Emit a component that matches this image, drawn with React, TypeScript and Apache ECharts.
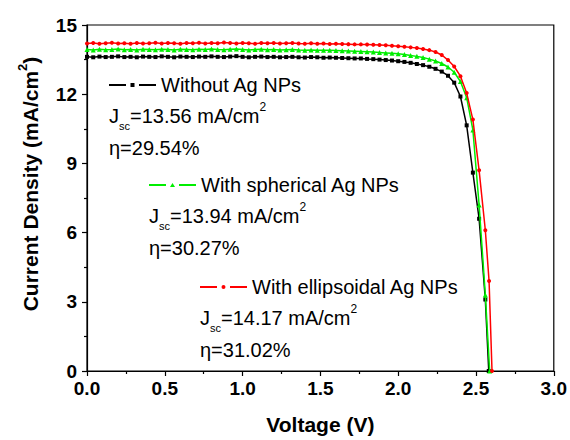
import React, { useEffect, useRef } from "react";
import * as echarts from "echarts";

const FONT = "'Liberation Sans', Arial, Helvetica, sans-serif";

// Voltage grid (V)
const voltage = [
  0.0, 0.04, 0.08, 0.12, 0.16, 0.2, 0.24, 0.28, 0.32, 0.36,
  0.4, 0.44, 0.48, 0.52, 0.56, 0.6, 0.64, 0.68, 0.72, 0.76,
  0.8, 0.84, 0.88, 0.92, 0.96, 1.0, 1.04, 1.08, 1.12, 1.16,
  1.2, 1.24, 1.28, 1.32, 1.36, 1.4, 1.44, 1.48, 1.52, 1.56,
  1.6, 1.64, 1.68, 1.72, 1.76, 1.8, 1.84, 1.88, 1.92, 1.96,
  2.0, 2.04, 2.08, 2.12, 2.16, 2.2, 2.24, 2.28, 2.32, 2.36,
  2.4, 2.44, 2.48, 2.52, 2.56,
];

// Current density (mA/cm2)
const jWithout = [
  13.62, 13.6, 13.63, 13.61, 13.62, 13.64, 13.61, 13.62, 13.6, 13.63,
  13.62, 13.61, 13.64, 13.62, 13.6, 13.63, 13.62, 13.61, 13.63, 13.62,
  13.64, 13.62, 13.61, 13.63, 13.65, 13.62, 13.6, 13.62, 13.63, 13.61,
  13.62, 13.6, 13.61, 13.62, 13.6, 13.59, 13.61, 13.6, 13.58, 13.59,
  13.58, 13.57, 13.56, 13.55, 13.55, 13.53, 13.52, 13.5, 13.48, 13.46,
  13.43, 13.4, 13.36, 13.31, 13.26, 13.19, 13.1, 12.98, 12.8, 12.5,
  11.9, 10.65, 8.6, 6.6, 3.1,
];
const withoutTailV = [2.582];
const withoutTailJ = [0];

const jSpherical = [
  13.94, 13.92, 13.95, 13.93, 13.94, 13.96, 13.93, 13.94, 13.92, 13.95,
  13.94, 13.93, 13.95, 13.94, 13.92, 13.95, 13.94, 13.93, 13.95, 13.94,
  13.96, 13.94, 13.93, 13.95, 13.96, 13.94, 13.92, 13.94, 13.95, 13.93,
  13.94, 13.92, 13.93, 13.94, 13.92, 13.91, 13.92, 13.91, 13.9, 13.9,
  13.89, 13.88, 13.87, 13.86, 13.85, 13.84, 13.83, 13.81, 13.79, 13.77,
  13.75, 13.72, 13.68, 13.64, 13.59, 13.52, 13.44, 13.33, 13.18, 12.95,
  12.55, 11.85, 10.45, 7.2, 3.3,
];
const sphericalTailV = [2.588];
const sphericalTailJ = [0];

const jEllipsoidal = [
  14.2, 14.22, 14.19, 14.21, 14.23, 14.2, 14.21, 14.19, 14.22, 14.2,
  14.21, 14.23, 14.2, 14.22, 14.21, 14.19, 14.22, 14.21, 14.23, 14.2,
  14.22, 14.21, 14.24, 14.22, 14.2, 14.22, 14.21, 14.19, 14.22, 14.21,
  14.22, 14.2, 14.21, 14.22, 14.2, 14.19, 14.21, 14.19, 14.2, 14.18,
  14.19, 14.18, 14.17, 14.16, 14.16, 14.15, 14.14, 14.13, 14.12, 14.1,
  14.08, 14.06, 14.03, 14.0, 13.96, 13.91, 13.83, 13.7, 13.48, 13.2,
  12.78, 12.05, 10.9, 8.7, 6.1,
];
const ellipsoidalTailV = [2.584, 2.603];
const ellipsoidalTailJ = [3.9, 0];

const seriesNames = ["Without Ag NPs", "With spherical Ag NPs", "With ellipsoidal Ag NPs"];
const seriesColors = ["#000000", "#00ee00", "#ff0000"];
const seriesSymbols = ["rect", "triangle", "circle"];
const jscLabels = ["13.56", "13.94", "14.17"];
const etaLabels = ["29.54%", "30.27%", "31.02%"];

const xTicks = ["0.0", "0.5", "1.0", "1.5", "2.0", "2.5", "3.0"];

// legend icons: dash - marker - dash
const legendIcons = [
  "path://M0,1H17V3H0Z M21.5,0H25.5V4H21.5Z M30,1H47V3H30Z",
  "path://M0,1H17V3H0Z M21,4L23.5,0L26,4Z M30,1H47V3H30Z",
  "path://M0,1H17V3H0Z M21.5,2A2,2,0,1,0,25.5,2A2,2,0,1,0,21.5,2Z M30,1H47V3H30Z",
];

function build(js: number[], tv: number[], tj: number[]) {
  const pts: number[][] = voltage.map((v, i) => [v, js[i]]);
  tv.forEach((v, i) => pts.push([v, tj[i]]));
  return pts;
}

// annotation anchors (layout only)
const blockLeft = [109, 149, 200];
const blockTop = [85, 185, 287];

export default function App() {
  const ref = useRef<HTMLDivElement>(null);
  useEffect(() => {
    if (!ref.current) return;
    const chart = echarts.init(ref.current, null, { renderer: "svg" });
    const datas = [
      build(jWithout, withoutTailV, withoutTailJ),
      build(jSpherical, sphericalTailV, sphericalTailJ),
      build(jEllipsoidal, ellipsoidalTailV, ellipsoidalTailJ),
    ];
    const axisCommon = {
      axisLine: { show: true, onZero: false, lineStyle: { color: "#000", width: 1.2 } },
      axisTick: { show: true, length: 5, lineStyle: { color: "#000", width: 1.2 } },
      minorTick: { show: true, splitNumber: 2, length: 3, lineStyle: { color: "#000", width: 1.2 } },
      splitLine: { show: false },
      minorSplitLine: { show: false },
    };
    const graphics: any[] = [];
    for (let k = 0; k < 3; k++) {
      graphics.push({
        type: "text",
        x: blockLeft[k],
        y: blockTop[k] + 31,
        style: {
          text: `{m|J}{sub|sc}{m|=${jscLabels[k]} mA/cm}{sup|2}`,
          verticalAlign: "middle",
          align: "left",
          rich: {
            m: { fontFamily: FONT, fontSize: 20, lineHeight: 30, fill: "#000" },
            sub: { fontFamily: FONT, fontSize: 11, lineHeight: 14, verticalAlign: "bottom", fill: "#000" },
            sup: { fontFamily: FONT, fontSize: 12, lineHeight: 12, verticalAlign: "top", fill: "#000" },
          },
        },
      });
      graphics.push({
        type: "text",
        x: blockLeft[k],
        y: blockTop[k] + 63,
        style: {
          text: `η=${etaLabels[k]}`,
          fontFamily: FONT,
          fontSize: 20,
          fill: "#000",
          verticalAlign: "middle",
          align: "left",
        },
      });
    }
    graphics.push({
      type: "text",
      x: 30,
      y: 184,
      rotation: Math.PI / 2,
      style: {
        text: "{t|Current Density (mA/cm}{s|2}{t|)}",
        align: "center",
        verticalAlign: "middle",
        rich: {
          t: { fontFamily: FONT, fontSize: 21, fontWeight: "bold", lineHeight: 28, fill: "#000" },
          s: { fontFamily: FONT, fontSize: 13, fontWeight: "bold", lineHeight: 12, verticalAlign: "top", fill: "#000" },
        },
      },
    });

    chart.setOption({
      animation: false,
      backgroundColor: "#ffffff",
      grid: {
        left: 87,
        right: 16,
        top: 25,
        bottom: 67,
        show: true,
        borderColor: "#000",
        borderWidth: 1.2,
        backgroundColor: "transparent",
      },
      legend: seriesNames.map((n, k) => ({
        data: [{ name: n, icon: legendIcons[k] }],
        left: blockLeft[k],
        top: blockTop[k] - 10,
        padding: 0,
        itemWidth: 47,
        itemHeight: 4,
        selectedMode: false,
        itemStyle: { color: seriesColors[k], borderWidth: 0 },
        textStyle: { fontFamily: FONT, fontSize: 20, color: "#000", lineHeight: 20 },
      })),
      xAxis: {
        type: "value",
        min: 0,
        max: 3,
        interval: 0.5,
        ...axisCommon,
        axisLabel: {
          formatter: (v: number) => xTicks[Math.round(v / 0.5)] ?? v.toFixed(1),
          fontFamily: FONT,
          fontWeight: "bold",
          fontSize: 19,
          color: "#000",
          margin: 8,
        },
        name: "Voltage (V)",
        nameLocation: "middle",
        nameGap: 43,
        nameTextStyle: { fontFamily: FONT, fontWeight: "bold", fontSize: 21, color: "#000" },
      },
      yAxis: {
        type: "value",
        min: 0,
        max: 15,
        interval: 3,
        ...axisCommon,
        axisLabel: {
          fontFamily: FONT,
          fontWeight: "bold",
          fontSize: 19,
          color: "#000",
          margin: 10,
        },
      },
      graphic: graphics,
      series: datas.map((d, k) => ({
        name: seriesNames[k],
        type: "line",
        data: d,
        symbol: seriesSymbols[k],
        symbolSize: k === 1 ? 5 : 4,
        showAllSymbol: true,
        lineStyle: { color: seriesColors[k], width: 1.5 },
        itemStyle: { color: seriesColors[k] },
        z: 2 + k,
      })),
    });
    return () => chart.dispose();
  }, []);
  return <div ref={ref} style={{ width: 570, height: 440, position: "absolute", left: 0, top: 0 }} />;
}
